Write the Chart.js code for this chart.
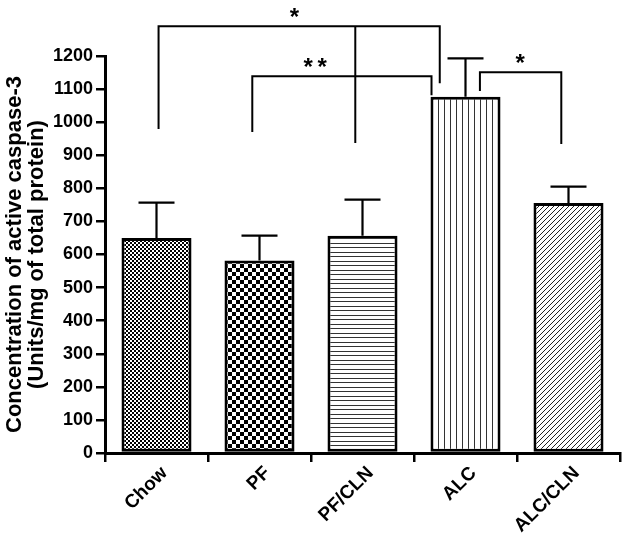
<!DOCTYPE html>
<html><head><meta charset="utf-8">
<script src="https://cdn.jsdelivr.net/npm/chart.js@4"></script>
<style>html,body{margin:0;padding:0;background:#fff}</style>
</head><body>
<canvas id="c" width="624" height="540" style="width:624px;height:540px;display:block"></canvas>
<script>
// ---- data ----
const categories = ['Chow', 'PF', 'PF/CLN', 'ALC', 'ALC/CLN'];
const means = [650, 582, 657, 1077, 756];
const sem = [107, 75, 109, 116, 49];
const yMin = 0, yMax = 1200, yStep = 100;
const yTitle = ['Concentration of active caspase-3', '(Units/mg of total protein)'];
// significance brackets: [x from, x to] in category index, bar level, leg ends, optional drop
const bracketX = [[0.02, 2.75], [0.93, 2.67], [3.14, 3.93]];
const bracketY = [1290, 1139, 1151];
const bracketLegs = [[979, 1118], [970, 1081], [1094, 934]];
const bracketLabels = ['*', '**', '*'];
const bracketLabelX = [1.34, 1.54, 3.53];
const dropX = 1.93, dropY = 937; // extra vertical from top bracket

// ---- patterns ----
function makePattern(w, h, draw) {
  const c = document.createElement('canvas');
  c.width = w; c.height = h;
  const g = c.getContext('2d');
  g.fillStyle = '#fff'; g.fillRect(0, 0, w, h);
  g.fillStyle = '#000'; g.strokeStyle = '#000';
  draw(g);
  return g.createPattern(c, 'repeat');
}
const patterns = [
  makePattern(4, 4, g => { g.fillRect(0, 0, 2, 2); g.fillRect(2, 2, 2, 2); }),
  makePattern(8, 8, g => { g.fillRect(0, 0, 4, 4); g.fillRect(4, 4, 4, 4); }),
  makePattern(9, 9, g => { g.fillStyle = '#333'; g.fillRect(0, 0, 9, 1); g.fillRect(0, 4, 9, 1); }),
  makePattern(6, 6, g => { g.fillStyle = '#333'; g.fillRect(0, 0, 1, 6); }),
  makePattern(5, 5, g => {
    g.lineWidth = 1; g.strokeStyle = '#222';
    g.beginPath(); g.moveTo(-1, 6); g.lineTo(6, -1); g.stroke();
    g.beginPath(); g.moveTo(-1, 1); g.lineTo(1, -1); g.stroke();
    g.beginPath(); g.moveTo(4, 6); g.lineTo(6, 4); g.stroke();
  })
];

const FONT = "'Liberation Sans', Arial, sans-serif";

const overlay = {
  id: 'overlay',
  afterDatasetsDraw(chart) {
    const ctx = chart.ctx, xs = chart.scales.x, ys = chart.scales.y;
    const meta = chart.getDatasetMeta(0);
    ctx.save();
    ctx.strokeStyle = '#000';
    ctx.lineCap = 'butt';
    // error bars
    ctx.lineWidth = 2.2;
    meta.data.forEach((bar, i) => {
      const x = bar.x;
      const yTop = ys.getPixelForValue(means[i] + sem[i]);
      const yBar = ys.getPixelForValue(means[i]);
      ctx.beginPath();
      ctx.moveTo(x, yBar); ctx.lineTo(x, yTop);
      ctx.moveTo(x - 18, yTop); ctx.lineTo(x + 18, yTop);
      ctx.stroke();
    });
    // brackets
    ctx.lineWidth = 2;
    bracketX.forEach((bx, k) => {
      const x1 = xs.getPixelForValue(bx[0]), x2 = xs.getPixelForValue(bx[1]);
      const y = ys.getPixelForValue(bracketY[k]);
      ctx.beginPath();
      ctx.moveTo(x1, ys.getPixelForValue(bracketLegs[k][0]));
      ctx.lineTo(x1, y); ctx.lineTo(x2, y);
      ctx.lineTo(x2, ys.getPixelForValue(bracketLegs[k][1]));
      ctx.stroke();
      // label
      ctx.fillStyle = '#000';
      ctx.font = 'bold 24px ' + FONT;
      ctx.textAlign = 'center';
      ctx.textBaseline = 'alphabetic';
      const m = ctx.measureText('*');
      const lx = xs.getPixelForValue(bracketLabelX[k]);
      const cy = y - 14;
      const by = cy + (m.actualBoundingBoxAscent - m.actualBoundingBoxDescent) / 2;
      const n = bracketLabels[k].length;
      for (let j = 0; j < n; j++) {
        ctx.fillText('*', lx + (j - (n - 1) / 2) * 14, by);
      }
    });
    const dx = xs.getPixelForValue(dropX);
    ctx.beginPath();
    ctx.moveTo(dx, ys.getPixelForValue(bracketY[0]));
    ctx.lineTo(dx, ys.getPixelForValue(dropY));
    ctx.stroke();
    ctx.restore();
  }
};

new Chart(document.getElementById('c'), {
  type: 'bar',
  data: {
    labels: categories,
    datasets: [{
      data: means,
      backgroundColor: patterns,
      borderColor: '#000',
      borderWidth: 3,
      borderSkipped: false,
      barPercentage: 0.68,
      categoryPercentage: 1
    }]
  },
  options: {
    responsive: false,
    animation: false,
    devicePixelRatio: 1,
    layout: { padding: { top: 56, right: 4, left: 0, bottom: 0 } },
    plugins: { legend: { display: false }, tooltip: { enabled: false } },
    scales: {
      x: {
        afterFit(s) { s.height = 87; },
        grid: { display: true, drawOnChartArea: false, drawTicks: true, tickLength: 9, color: '#000', lineWidth: 2.5 },
        border: { display: true, color: '#000', width: 3 },
        ticks: {
          color: '#000', font: { family: FONT, weight: 'bold', size: 19 },
          maxRotation: 45, minRotation: 45, padding: 0, labelOffset: 8
        }
      },
      y: {
        min: yMin, max: yMax,
        afterFit(s) { s.width = 105; },
        grid: { display: true, drawOnChartArea: false, drawTicks: true, tickLength: 9, color: '#000', lineWidth: 2.5 },
        border: { display: true, color: '#000', width: 3 },
        ticks: {
          stepSize: yStep, color: '#000', padding: 3,
          font: { family: FONT, weight: 'bold', size: 18 },
          callback: v => String(v)
        },
        title: {
          display: true, text: yTitle, color: '#000',
          font: { family: FONT, weight: 'bold', size: 22, lineHeight: 1.0 },
          padding: { top: 4, bottom: 0 }
        }
      }
    }
  },
  plugins: [overlay]
});
</script>
</body></html>
